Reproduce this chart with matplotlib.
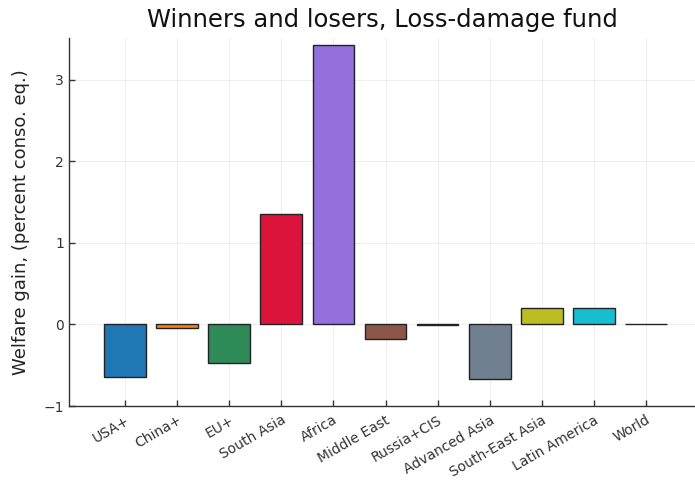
import matplotlib
matplotlib.use("Agg")
import matplotlib.pyplot as plt

regions = ["USA+", "China+", "EU+", "South Asia", "Africa", "Middle East",
           "Russia+CIS", "Advanced Asia", "South-East Asia", "Latin America", "World"]
welfare_gain = [-0.65, -0.05, -0.47, 1.35, 3.43, -0.18, -0.005, -0.67, 0.205, 0.20, 0.01]
bar_colors = ["#1f77b4", "#ff7f0e", "#2e8b57", "#dc143c", "#9370db", "#8c564b",
              "#666666", "#708090", "#bcbd22", "#17becf", "#555555"]
yticks = [-1, 0, 1, 2, 3]

fig = plt.figure(figsize=(6.95, 4.8), dpi=100)
ax = fig.add_axes([69/695, 1-406/480, (695-69)/695, (406-38)/480])

x = list(range(len(regions)))
ax.bar(x, welfare_gain, width=0.8, color=bar_colors, edgecolor="#222222", linewidth=1.0, zorder=3)

ax.set_xlim(-1.075, 10.94)
ax.set_ylim(-1, 3.51)
ax.set_xticks(x)
ax.set_xticklabels(regions, rotation=30, ha="right", rotation_mode="anchor", fontsize=10, color="#333333")
ax.set_yticks(yticks)
ax.set_yticklabels(["\u22121", "0", "1", "2", "3"], fontsize=10, color="#333333")
ax.tick_params(direction="in", length=4, color="#333333", width=1)
ax.tick_params(axis="x", pad=5)
ax.grid(True, color="#000000", alpha=0.08, linewidth=0.6, zorder=0)
for s in ["top", "right"]:
    ax.spines[s].set_visible(False)
for s in ["left", "bottom"]:
    ax.spines[s].set_color("#333333")
    ax.spines[s].set_linewidth(1.0)

ax.set_ylabel("Welfare gain, (percent conso. eq.)", fontsize=13, color="#222222", labelpad=10)
ax.set_title("Winners and losers, Loss-damage fund", fontsize=17.5, color="#111111", pad=8)

fig.savefig("out.png", dpi=100)
